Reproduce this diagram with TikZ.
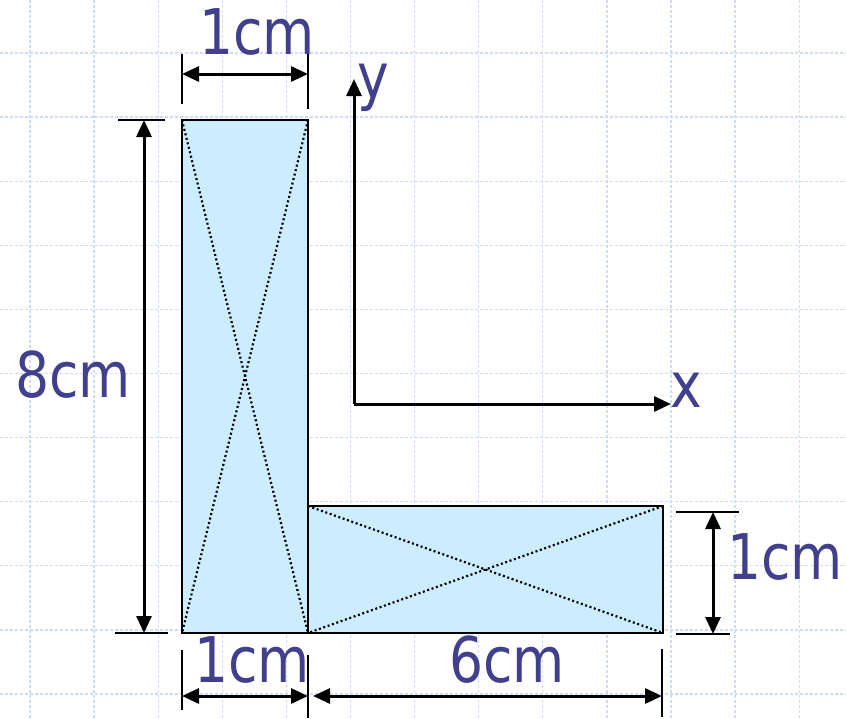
\documentclass[tikz,border=0pt]{standalone}
\usepackage{fontspec}
\newfontfamily\dimfont[FakeStretch=0.85]{DejaVu Sans}
\usetikzlibrary{arrows.meta}
\definecolor{barfill}{RGB}{204,236,255}
\definecolor{gridblue}{RGB}{206,219,250}
\definecolor{labelblue}{RGB}{64,64,140}
\tikzset{
  gridline/.style={gridblue, line width=1.3pt, dash pattern=on 2.5pt off 2.5pt},
  bar/.style={draw=black, fill=barfill, line width=2.6pt},
  diag/.style={line width=2.2pt, dash pattern=on 2pt off 2.6pt},
  extline/.style={line width=2.2pt},
  dimline/.style={line width=3pt, {Triangle[length=17pt,width=15pt]}-{Triangle[length=17pt,width=15pt]}},
  axis/.style={line width=3pt, -{Triangle[length=17pt,width=15pt]}},
  dimlabel/.style={text=labelblue, font=\dimfont\fontsize{63}{72}\selectfont, inner sep=0pt},
}
\begin{document}
\begin{tikzpicture}[x=1pt,y=-1pt]
  \useasboundingbox (0,0) rectangle (846,718);
  % background grid
  \foreach \i in {0,...,12}
    \draw[gridline] ({30+64.1*\i},0) -- ++(0,718);
  \foreach \j in {0,...,10}
    \draw[gridline] (0,{53+64.1*\j}) -- ++(846,0);

  % the two bars
  \draw[bar] (182,120) rectangle (308,633);
  \draw[bar] (308,506) rectangle (663,633);
  \draw[diag] (182,120) -- (308,633);
  \draw[diag] (308,120) -- (182,633);
  \draw[diag] (308,506) -- (663,633);
  \draw[diag] (663,506) -- (308,633);

  % axes
  \coordinate (O) at (354,404);
  \coordinate (yend) at (354,79);
  \coordinate (xend) at (671,404);
  \draw[axis] (O) -- (yend);
  \draw[axis] (O) -- (xend);
  \node[dimlabel] (ylab) at (373,88) {y};
  \node[dimlabel] (xlab) at (686,390) {x};

  % top width
  \draw[extline] (182,54) -- (182,104);
  \draw[extline] (308,54) -- (308,109);
  \coordinate (topL) at (182,74);
  \coordinate (topR) at (308,74);
  \draw[dimline] (topL) -- (topR);
  \node[dimlabel] (topw) at (257,32) {1cm};

  % left height
  \draw[extline] (118,120) -- (165,120);
  \draw[extline] (115,633) -- (168,633);
  \coordinate (leftT) at (144,120);
  \coordinate (leftB) at (144,633);
  \draw[dimline] (leftT) -- (leftB);
  \node[dimlabel] (lefth) at (73,375) {8cm};

  % bottom widths
  \draw[extline] (182,650) -- (182,710);
  \draw[extline] (308,655) -- (308,718);
  \draw[extline] (662,649) -- (662,717);
  \coordinate (botA) at (182,696);
  \coordinate (botB) at (308,696);
  \coordinate (botC) at (313,696);
  \coordinate (botD) at (662,696);
  \draw[dimline] (botA) -- (botB);
  \draw[dimline] (botC) -- (botD);
  \node[dimlabel] (botw) at (252,660) {1cm};
  \node[dimlabel] (botl) at (507,660) {6cm};

  % right height
  \draw[extline] (676,512) -- (739,512);
  \draw[extline] (676,634) -- (730,634);
  \coordinate (rightT) at (713,512);
  \coordinate (rightB) at (713,634);
  \draw[dimline] (rightT) -- (rightB);
  \node[dimlabel] (righth) at (785,557) {1cm};
\end{tikzpicture}
\end{document}
